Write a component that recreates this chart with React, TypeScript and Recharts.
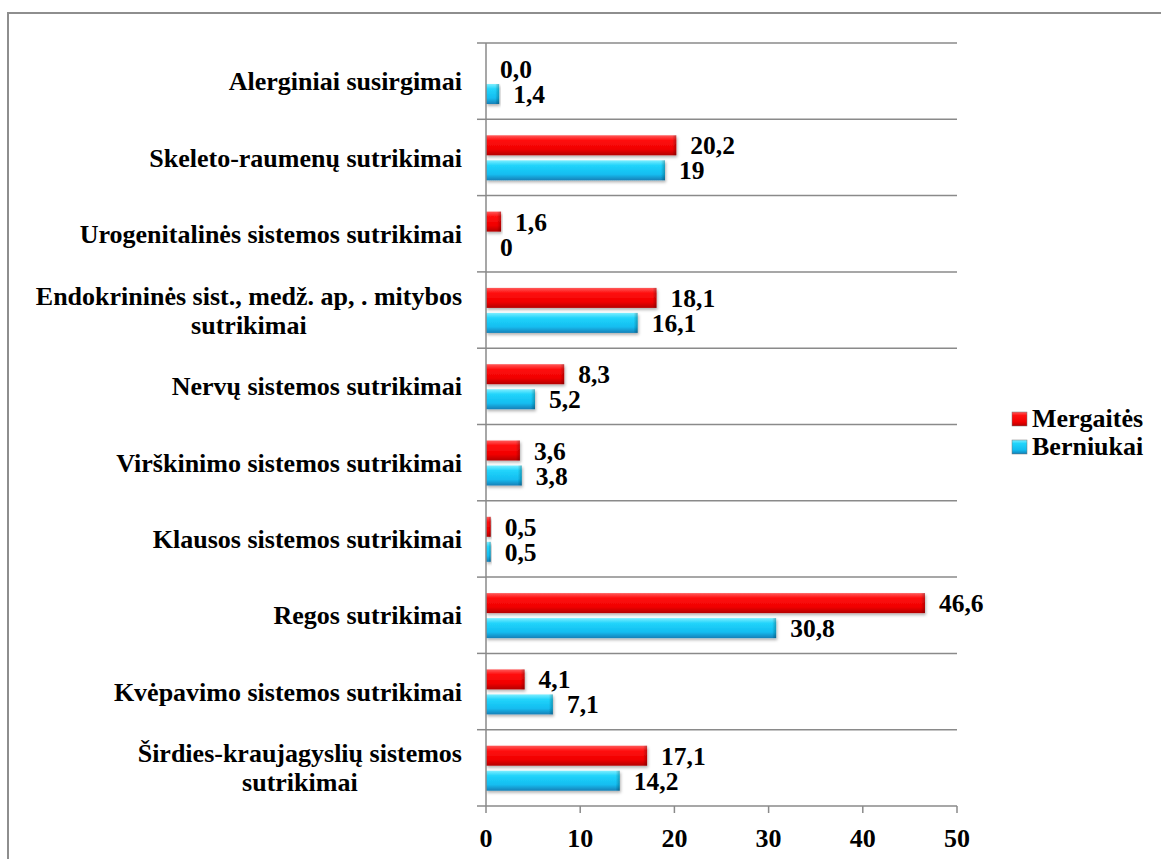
import React from 'react';
import {
  BarChart,
  Bar,
  XAxis,
  YAxis,
  CartesianGrid,
  Legend,
  LabelList,
} from 'recharts';

const categories = [
  'Alerginiai susirgimai',
  'Skeleto-raumenų sutrikimai',
  'Urogenitalinės sistemos sutrikimai',
  'Endokrininės sist., medž. ap, . mitybos sutrikimai',
  'Nervų sistemos sutrikimai',
  'Virškinimo sistemos sutrikimai',
  'Klausos sistemos sutrikimai',
  'Regos sutrikimai',
  'Kvėpavimo sistemos sutrikimai',
  'Širdies-kraujagyslių sistemos sutrikimai',
];

const mergaites = [0.0, 20.2, 1.6, 18.1, 8.3, 3.6, 0.5, 46.6, 4.1, 17.1];
const berniukai = [1.4, 19, 0, 16.1, 5.2, 3.8, 0.5, 30.8, 7.1, 14.2];

const mergaitesLabels = ['0,0', '20,2', '1,6', '18,1', '8,3', '3,6', '0,5', '46,6', '4,1', '17,1'];
const berniukaiLabels = ['1,4', '19', '0', '16,1', '5,2', '3,8', '0,5', '30,8', '7,1', '14,2'];

const xTicks = [0, 10, 20, 30, 40, 50];

const data = categories.map((name, i) => ({
  name,
  Mergaitės: mergaites[i],
  Berniukai: berniukai[i],
  mLabel: mergaitesLabels[i],
  bLabel: berniukaiLabels[i],
}));

const FONT = '"Liberation Serif", "Times New Roman", serif';
const AXIS_GRAY = '#8a8a8a';
const PLOT_LEFT = 486;
const PLOT_TOP = 43;
const PLOT_BOTTOM = 806;
const BAND = (PLOT_BOTTOM - PLOT_TOP) / categories.length;

let measureCtx: CanvasRenderingContext2D | null = null;
function textWidth(s: string) {
  if (!measureCtx) {
    measureCtx = document.createElement('canvas').getContext('2d');
  }
  if (!measureCtx) return s.length * 12;
  measureCtx.font = `bold 26px ${FONT}`;
  return measureCtx.measureText(s).width;
}

function wrap(label: string, maxWidth: number) {
  const words = label.split(' ');
  const lines: string[] = [];
  let cur = '';
  words.forEach((w) => {
    const next = cur ? cur + ' ' + w : w;
    if (cur && textWidth(next) > maxWidth) {
      lines.push(cur);
      cur = w;
    } else {
      cur = next;
    }
  });
  if (cur) lines.push(cur);
  return lines;
}

const CategoryTick = (props: any) => {
  const { y, payload, index } = props;
  const lines = wrap(payload.value, 445);
  const textRight = PLOT_LEFT - 24;
  const widest = Math.max(...lines.map(textWidth));
  const cx = textRight - widest / 2;
  const lineH = 29;
  const startY = y - ((lines.length - 1) * lineH) / 2;
  return (
    <g>
      <line x1={PLOT_LEFT - 9} x2={PLOT_LEFT} y1={y - BAND / 2} y2={y - BAND / 2} stroke={AXIS_GRAY} strokeWidth={1.5} />
      {index === categories.length - 1 && (
        <line x1={PLOT_LEFT - 9} x2={PLOT_LEFT} y1={y + BAND / 2} y2={y + BAND / 2} stroke={AXIS_GRAY} strokeWidth={1.5} />
      )}
      <text
        textAnchor="middle"
        fontFamily={FONT}
        fontWeight="bold"
        fontSize={26}
        fill="#000"
      >
        {lines.map((l, i) => (
          <tspan key={i} x={cx} y={startY + i * lineH} dy="0.35em">
            {l}
          </tspan>
        ))}
      </text>
    </g>
  );
};

const makeShape = (grad: string) => (props: any) => {
  const { x, y, width, height } = props;
  if (!width || width <= 0) return <g />;
  const bevel = Math.min(4, width / 2);
  return (
    <g filter="url(#barShadow)">
      <rect x={x} y={y} width={width} height={height} fill={`url(#${grad})`} />
      <rect x={x + width - bevel} y={y} width={bevel} height={height} fill="url(#endShade)" />
    </g>
  );
};

const legendItems = [
  { label: 'Mergaitės', grad: 'redGrad' },
  { label: 'Berniukai', grad: 'blueGrad' },
];

const LegendContent = () => (
  <div style={{ fontFamily: FONT, fontWeight: 'bold', fontSize: 26, color: '#000' }}>
    {legendItems.map((it) => (
      <div key={it.label} style={{ display: 'flex', alignItems: 'center', height: 28, whiteSpace: 'nowrap' }}>
        <svg width={18} height={16} style={{ marginRight: 3 }}>
          <rect x={1} y={1} width={15} height={14} fill={`url(#${it.grad})`} stroke="#777" strokeWidth={0.5} />
        </svg>
        <span>{it.label}</span>
      </div>
    ))}
  </div>
);

const labelStyle = { fill: '#000', fontSize: 25.5, fontWeight: 'bold', fontFamily: FONT };

export default function App() {
  return (
    <div style={{ position: 'absolute', left: 0, top: 0, width: 1161, height: 859, overflow: 'hidden', background: '#fff' }}>
      <div
        style={{
          position: 'absolute',
          left: 7,
          top: 12,
          width: 1154,
          height: 847,
          borderLeft: '2px solid #8e8e8e',
          borderTop: '2px solid #8e8e8e',
          boxSizing: 'border-box',
        }}
      />
      <div style={{ position: 'absolute', left: 0, top: 0 }}>
        <BarChart
          width={1161}
          height={859}
          data={data}
          layout="vertical"
          margin={{ top: PLOT_TOP, right: 1161 - 957, left: 0, bottom: 0 }}
          barSize={20}
          barGap={5}
        >
          <defs>
            <linearGradient id="redGrad" x1="0" y1="0" x2="0" y2="1">
              <stop offset="0%" stopColor="#ff5a5a" />
              <stop offset="25%" stopColor="#ff1010" />
              <stop offset="70%" stopColor="#f00000" />
              <stop offset="100%" stopColor="#b40000" />
            </linearGradient>
            <linearGradient id="blueGrad" x1="0" y1="0" x2="0" y2="1">
              <stop offset="0%" stopColor="#7eeeff" />
              <stop offset="25%" stopColor="#22d4fb" />
              <stop offset="70%" stopColor="#12bdf0" />
              <stop offset="100%" stopColor="#1280b8" />
            </linearGradient>
            <linearGradient id="endShade" x1="0" y1="0" x2="1" y2="0">
              <stop offset="0%" stopColor="#000" stopOpacity={0} />
              <stop offset="100%" stopColor="#000" stopOpacity={0.25} />
            </linearGradient>
            <filter id="barShadow" x="-5%" y="-20%" width="115%" height="160%">
              <feDropShadow dx={1} dy={2} stdDeviation={1.5} floodColor="#000" floodOpacity={0.3} />
            </filter>
          </defs>
          <CartesianGrid
            vertical={false}
            stroke={AXIS_GRAY}
            strokeWidth={1.5}
            horizontalCoordinatesGenerator={({ offset }: any) =>
              categories.map((_, i) => offset.top + (i * offset.height) / categories.length)
            }
          />
          <XAxis
            type="number"
            domain={[0, 50]}
            ticks={xTicks}
            height={859 - PLOT_BOTTOM}
            tickSize={7}
            tickMargin={16}
            axisLine={{ stroke: AXIS_GRAY, strokeWidth: 1.5 }}
            tickLine={{ stroke: AXIS_GRAY, strokeWidth: 1.5 }}
            tick={{ fill: '#000', fontSize: 26, fontWeight: 'bold', fontFamily: FONT }}
          />
          <YAxis
            type="category"
            dataKey="name"
            width={PLOT_LEFT}
            tickLine={false}
            axisLine={{ stroke: AXIS_GRAY, strokeWidth: 1.5 }}
            tick={<CategoryTick />}
            interval={0}
          />
          <Legend
            layout="vertical"
            align="center"
            verticalAlign="middle"
            content={<LegendContent />}
            wrapperStyle={{ left: 1011, top: 405, width: 'auto' }}
          />
          <Bar dataKey="Mergaitės" isAnimationActive={false} shape={makeShape('redGrad')}>
            <LabelList dataKey="mLabel" position="right" offset={14} style={labelStyle} />
          </Bar>
          <Bar dataKey="Berniukai" isAnimationActive={false} shape={makeShape('blueGrad')}>
            <LabelList dataKey="bLabel" position="right" offset={14} style={labelStyle} />
          </Bar>
        </BarChart>
      </div>
    </div>
  );
}
